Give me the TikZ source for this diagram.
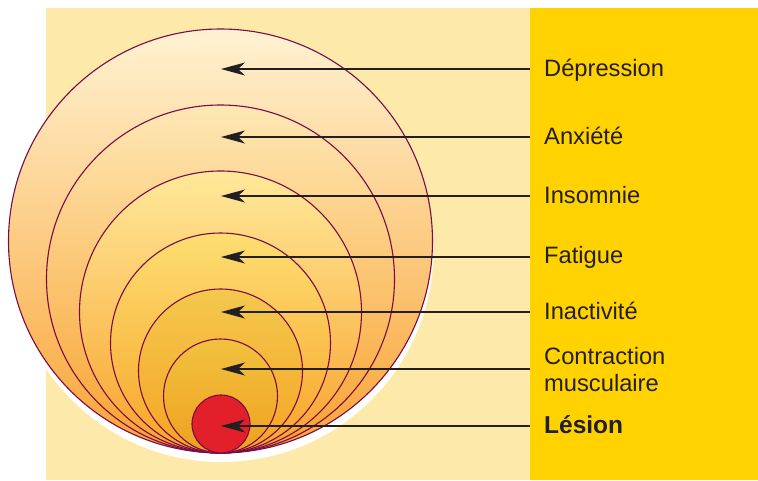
\documentclass[tikz,border=0pt]{standalone}
\usepackage{fontspec}
\setmainfont{Liberation Sans}
\usetikzlibrary{arrows.meta}

\definecolor{paper}{HTML}{FDE9A9}
\definecolor{panel}{HTML}{FFD200}
\definecolor{rim}{HTML}{7B0A46}
\definecolor{ink}{HTML}{231F20}
\definecolor{lesionred}{HTML}{E2202A}

\tikzset{
  ring/.style={draw=rim, line width=1.1pt},
  pointer/.style={draw=ink, line width=1.1pt, -{Stealth[length=24pt,width=13pt,inset=7pt]}},
  symptom/.style={text=ink, inner sep=0pt, font=\fontsize{23.7}{27}\selectfont},
}

\begin{document}
\begin{tikzpicture}[x=1pt,y=-1pt]
\useasboundingbox (0,0) rectangle (758,480);
%background
\fill[paper] (46,8) rectangle (530,480);
\fill[panel] (530,8) rectangle (758,480);

%shadow
\fill[white] (221.5,250) circle (212pt);
%rings, largest first
\draw[ring, top color={rgb,255:red,255;green,242;blue,210}, bottom color={rgb,255:red,249;green,164;blue,52}] (220.5,241) circle (212pt);
\draw[ring, top color={rgb,255:red,254;green,232;blue,180}, bottom color={rgb,255:red,248;green,161;blue,46}] (220.5,279) circle (174pt);
\draw[ring, top color={rgb,255:red,255;green,233;blue,154}, bottom color={rgb,255:red,248;green,162;blue,44}] (220.5,312) circle (141pt);
\draw[ring, top color={rgb,255:red,254;green,222;blue,114}, bottom color={rgb,255:red,247;green,164;blue,40}] (220.5,343) circle (110pt);
\draw[ring, top color={rgb,255:red,244;green,200;blue,78}, bottom color={rgb,255:red,245;green,164;blue,36}] (220.5,371) circle (82pt);
\draw[ring, top color={rgb,255:red,241;green,194;blue,62}, bottom color={rgb,255:red,239;green,160;blue,32}] (220.5,396) circle (57pt);
%lesion
\draw[ring, fill=lesionred] (221,424) circle (29pt);

%labels
\node[symptom, anchor=base west] (depression) at (544,76) {Dépression};
\node[symptom, anchor=base west] (anxiete) at (544,144) {Anxiété};
\node[symptom, anchor=base west] (insomnie) at (544,203) {Insomnie};
\node[symptom, anchor=base west] (fatigue) at (544,263) {Fatigue};
\node[symptom, anchor=base west] (inactivite) at (544,319) {Inactivité};
\node[symptom, anchor=west, align=left] (contraction) at (544,370) {Contraction\\musculaire};
\node[symptom, anchor=base west, font=\fontsize{24.5}{28}\selectfont\bfseries] (lesion) at (544,433) {Lésion};

%pointers
\coordinate (depression-end) at (530,69);   \coordinate (depression-tip) at (221,69);
\coordinate (anxiete-end) at (530,137);     \coordinate (anxiete-tip) at (221,137);
\coordinate (insomnie-end) at (530,196);    \coordinate (insomnie-tip) at (221,196);
\coordinate (fatigue-end) at (530,257);     \coordinate (fatigue-tip) at (221,257);
\coordinate (inactivite-end) at (530,312);  \coordinate (inactivite-tip) at (221,312);
\coordinate (contraction-end) at (530,369); \coordinate (contraction-tip) at (221,369);
\coordinate (lesion-end) at (530,426);      \coordinate (lesion-tip) at (221,426);
\draw[pointer] (depression-end) -- (depression-tip);
\draw[pointer] (anxiete-end) -- (anxiete-tip);
\draw[pointer] (insomnie-end) -- (insomnie-tip);
\draw[pointer] (fatigue-end) -- (fatigue-tip);
\draw[pointer] (inactivite-end) -- (inactivite-tip);
\draw[pointer] (contraction-end) -- (contraction-tip);
\draw[pointer] (lesion-end) -- (lesion-tip);
\end{tikzpicture}
\end{document}
